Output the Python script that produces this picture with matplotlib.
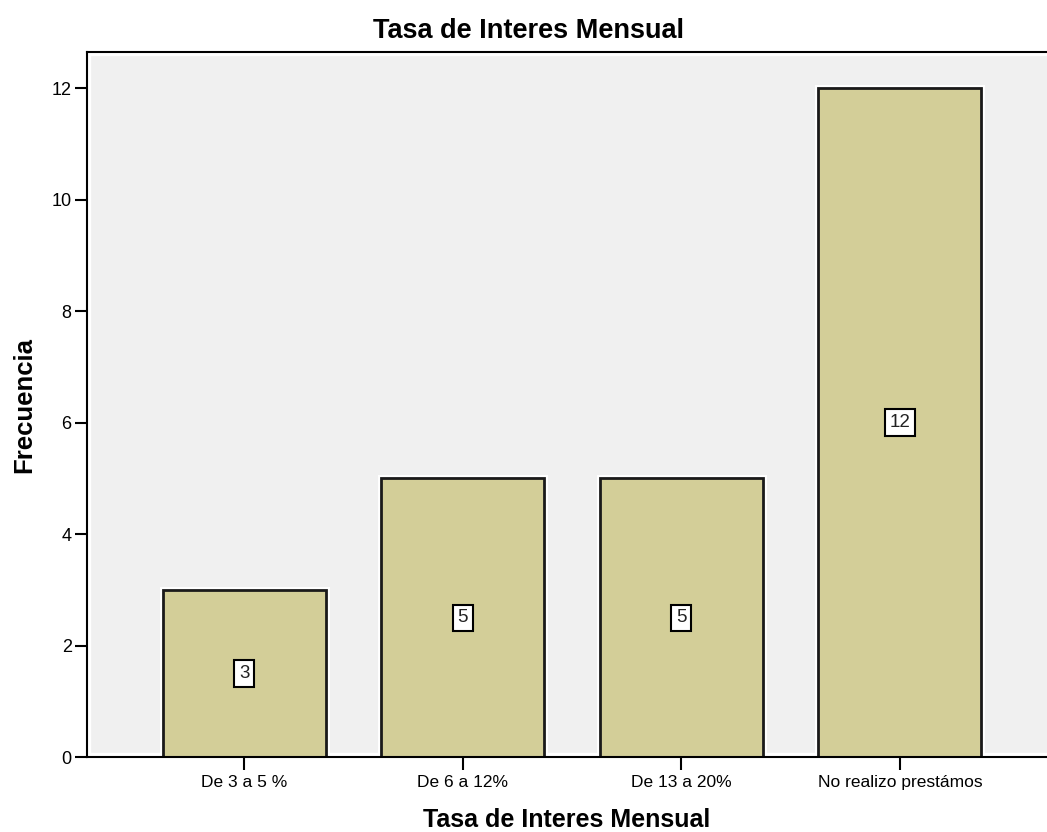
import matplotlib

matplotlib.use("Agg")
import matplotlib.pyplot as plt
import matplotlib.patheffects as pe

categories = ["De 3 a 5 %", "De 6 a 12%", "De 13 a 20%", "No realizo prestámos"]
counts = [3, 5, 5, 12]
yticks = [0, 2, 4, 6, 8, 10, 12]

plt.rcParams["font.family"] = ["Liberation Sans", "DejaVu Sans"]

fig = plt.figure(figsize=(10.47, 8.32), dpi=100)
# the plot frame runs past the right edge of the picture, as in the original
ax = fig.add_axes([0.0831, 0.0901, 0.93, 0.8474])
ax.patch.set_facecolor("#F0F0F0")
ax.patch.set_edgecolor("white")
ax.patch.set_linewidth(6)

x = list(range(len(categories)))
bars = ax.bar(x, counts, width=0.746, color="#D3CE98", edgecolor="#1a1a1a",
              linewidth=2, zorder=3)
for b in bars:
    b.set_path_effects([pe.Stroke(linewidth=5, foreground="white"), pe.Normal()])

for xi, v in zip(x, counts):
    ax.text(xi, v / 2, str(v), ha="center", va="center", fontsize=13.5, zorder=4,
            color="#222222",
            bbox=dict(boxstyle="square,pad=0.25", facecolor="white",
                      edgecolor="black", linewidth=1.5))

ax.set_xlim(-0.72, 3.736)
ax.set_ylim(0, 12.65)
ax.set_xticks(x)
ax.set_xticklabels(categories, fontsize=12.5)
ax.set_yticks(yticks)
ax.set_yticklabels([str(t) for t in yticks], fontsize=13)
ax.tick_params(axis="x", length=9, width=1.5, color="black", pad=4)
ax.tick_params(axis="y", length=9, width=1.5, color="black", pad=2)

for side in ["left", "top", "bottom"]:
    ax.spines[side].set_linewidth(1.5)
    ax.spines[side].set_color("black")
    ax.spines[side].set_zorder(5)
ax.spines["right"].set_visible(False)

fig.text(0.505, 0.9543, "Tasa de Interes Mensual", ha="center", va="baseline",
         fontsize=19.5, fontweight="bold")
ax.set_ylabel("Frecuencia", fontsize=18.5, fontweight="bold", labelpad=11)
fig.text(0.5416, 0.0055, "Tasa de Interes Mensual", ha="center", va="baseline",
         fontsize=18, fontweight="bold")

fig.savefig("out.png", dpi=100)
plt.close(fig)
